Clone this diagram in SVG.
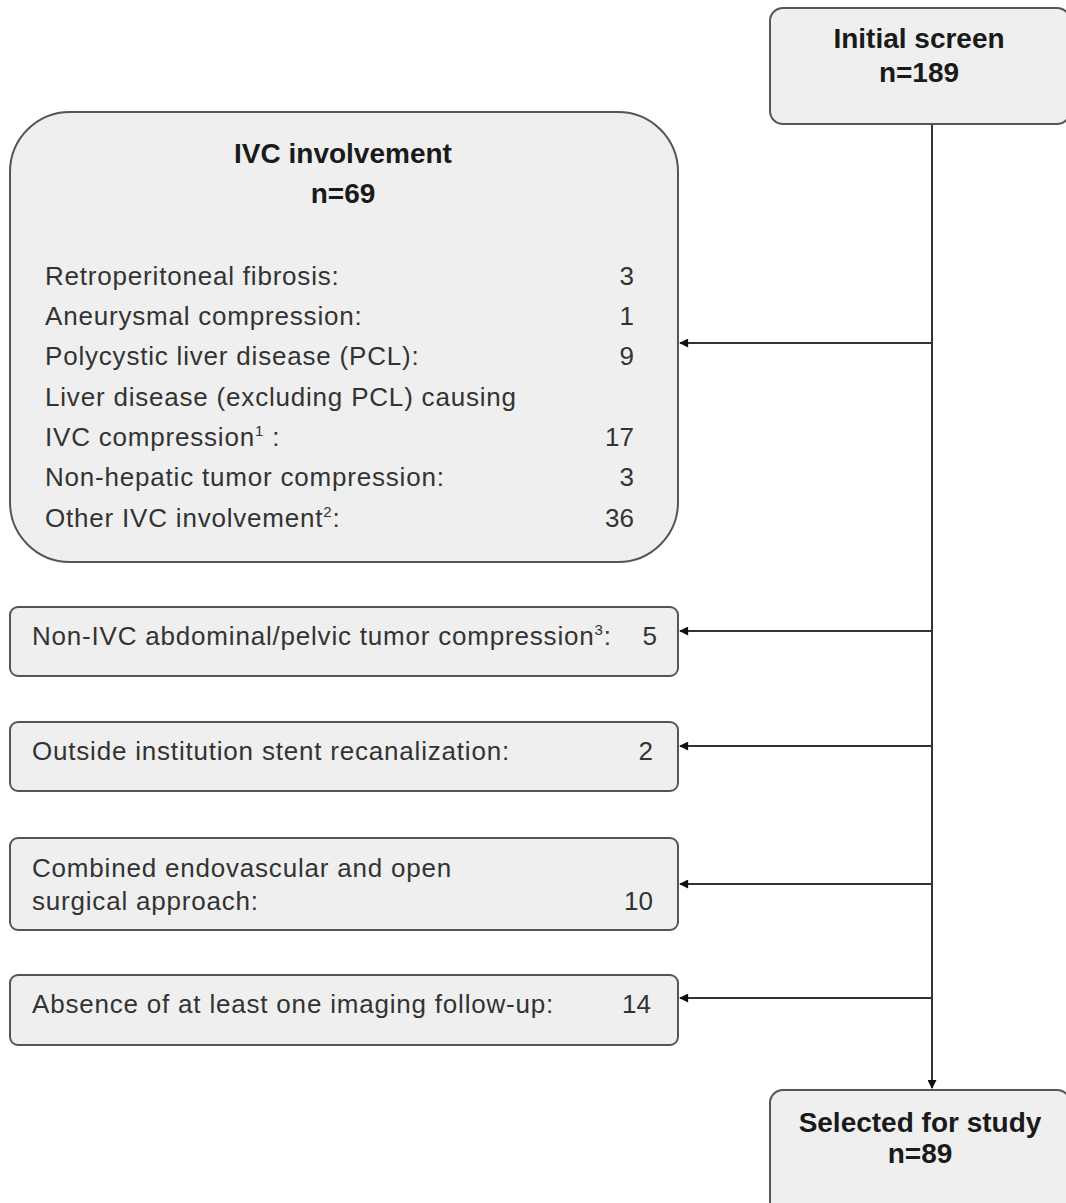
<svg xmlns="http://www.w3.org/2000/svg" width="1066" height="1203" viewBox="0 0 1066 1203">
<defs>
<marker id="arr" viewBox="0 0 10 10" refX="9" refY="5" markerWidth="10" markerHeight="9" markerUnits="userSpaceOnUse" orient="auto">
<path d="M0,0 L10,5 L0,10 z" fill="#111"/>
</marker>
<style>
.box{fill:#efefef;stroke:#555;stroke-width:2}
.hd{font-family:"Liberation Sans",Arial,sans-serif;font-size:28px;font-weight:bold;fill:#1a1a1a;text-anchor:middle}
.it{font-family:"Liberation Sans",Arial,sans-serif;font-size:26px;letter-spacing:0.8px;fill:#333}
.num{text-anchor:end;letter-spacing:0}
.ln{stroke:#333;stroke-width:2;fill:none}
</style>
</defs>
<rect width="1066" height="1203" fill="#fff"/>
<g id="connectors">
<line class="ln" x1="932" y1="124" x2="932" y2="1088" marker-end="url(#arr)"/>
<line class="ln" x1="932" y1="343" x2="680" y2="343" marker-end="url(#arr)"/>
<line class="ln" x1="932" y1="631" x2="680" y2="631" marker-end="url(#arr)"/>
<line class="ln" x1="932" y1="746" x2="680" y2="746" marker-end="url(#arr)"/>
<line class="ln" x1="932" y1="884" x2="680" y2="884" marker-end="url(#arr)"/>
<line class="ln" x1="932" y1="998" x2="680" y2="998" marker-end="url(#arr)"/>
</g>
<g id="initial">
<rect class="box" x="770" y="8" width="300" height="116" rx="13"/>
<text class="hd" x="919" y="48">Initial screen</text>
<text class="hd" x="919" y="82">n=189</text>
</g>
<g id="ivc">
<rect class="box" x="10" y="112" width="668" height="450" rx="60"/>
<text class="hd" x="343" y="163">IVC involvement</text>
<text class="hd" x="343" y="203">n=69</text>
<text class="it" x="45" y="285">Retroperitoneal fibrosis:</text><text class="it num" x="634" y="285">3</text>
<text class="it" x="45" y="325">Aneurysmal compression:</text><text class="it num" x="634" y="325">1</text>
<text class="it" x="45" y="365">Polycystic liver disease (PCL):</text><text class="it num" x="634" y="365">9</text>
<text class="it" x="45" y="406">Liver disease (excluding PCL) causing</text>
<text class="it" x="45" y="446">IVC compression<tspan font-size="15" dy="-10">1</tspan><tspan dy="10"> :</tspan></text><text class="it num" x="634" y="446">17</text>
<text class="it" x="45" y="486">Non-hepatic tumor compression:</text><text class="it num" x="634" y="486">3</text>
<text class="it" x="45" y="527">Other IVC involvement<tspan font-size="15" dy="-10">2</tspan><tspan dy="10">:</tspan></text><text class="it num" x="634" y="527">36</text>
</g>
<g id="nonivc">
<rect class="box" x="10" y="607" width="668" height="69" rx="8"/>
<text class="it" x="32" y="645" letter-spacing="1.05">Non-IVC abdominal/pelvic tumor compression<tspan font-size="15" dy="-10">3</tspan><tspan dy="10">:</tspan></text><text class="it num" x="657" y="645">5</text>
</g>
<g id="outside">
<rect class="box" x="10" y="722" width="668" height="69" rx="8"/>
<text class="it" x="32" y="760">Outside institution stent recanalization:</text><text class="it num" x="653" y="760">2</text>
</g>
<g id="combined">
<rect class="box" x="10" y="838" width="668" height="92" rx="8"/>
<text class="it" x="32" y="877">Combined endovascular and open</text>
<text class="it" x="32" y="910">surgical approach:</text><text class="it num" x="653" y="910">10</text>
</g>
<g id="absence">
<rect class="box" x="10" y="975" width="668" height="70" rx="8"/>
<text class="it" x="32" y="1013">Absence of at least one imaging follow-up:</text><text class="it num" x="651" y="1013">14</text>
</g>
<g id="selected">
<rect class="box" x="770" y="1090" width="300" height="125" rx="13"/>
<text class="hd" x="920" y="1132">Selected for study</text>
<text class="hd" x="920" y="1163">n=89</text>
</g>
</svg>
